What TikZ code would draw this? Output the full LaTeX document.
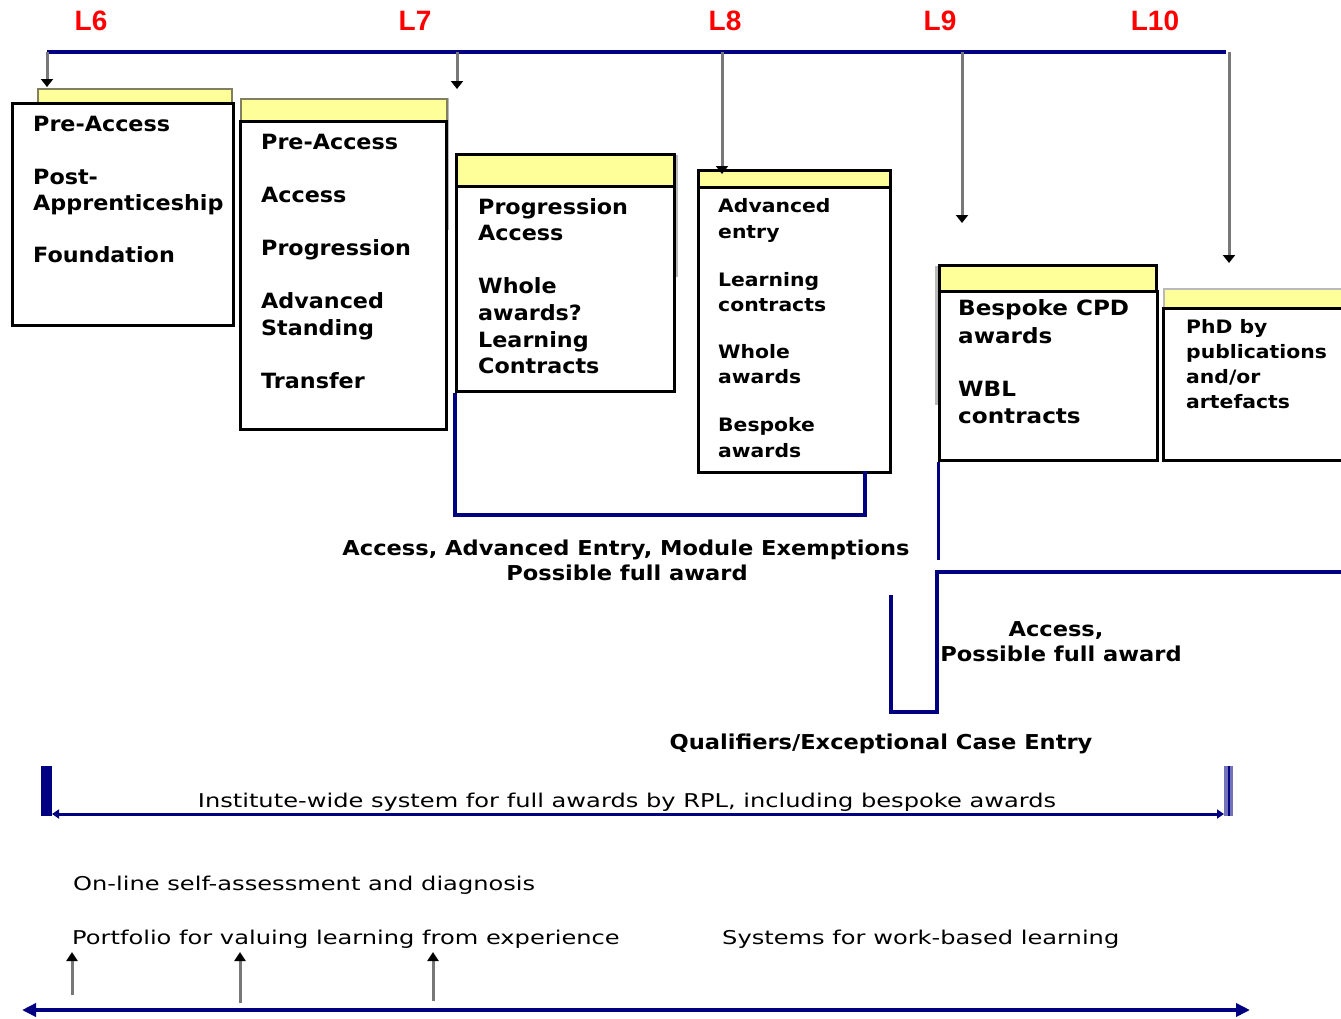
\documentclass[tikz,border=0pt]{standalone}
\usepackage{fontspec}
\setmainfont{DejaVu Sans}
\newfontfamily\boxfont{DejaVu Sans}[FakeStretch=1.06]
\newfontfamily\widefont{DejaVu Sans}[FakeStretch=1.1]
\newfontfamily\notefont{DejaVu Sans}[FakeStretch=1.27]
\newfontfamily\levelfont{Liberation Sans}
\usetikzlibrary{arrows.meta}
\definecolor{navyblue}{RGB}{0,0,128}
\definecolor{paleyellow}{RGB}{255,255,153}
\definecolor{headedge}{RGB}{128,128,96}
\definecolor{shadowgray}{RGB}{185,185,185}
\definecolor{levelred}{RGB}{255,0,0}
\definecolor{dropgray}{RGB}{120,120,120}
\begin{document}
\begin{tikzpicture}[x=1pt,y=-1pt,
  level/.style={font=\levelfont\bfseries\fontsize{28pt}{30pt}\selectfont, text=levelred, inner sep=0},
  head/.style={draw=headedge, line width=2pt, fill=paleyellow, anchor=north west, inner sep=0},
  card/.style={draw=black, line width=2.5pt, fill=white, anchor=north west, inner sep=0},
  item/.style={font=\boxfont\bfseries\fontsize{21pt}{24pt}\selectfont, anchor=base west, inner sep=0},
  wideitem/.style={font=\widefont\bfseries\fontsize{21pt}{24pt}\selectfont, anchor=base west, inner sep=0},
  smallitem/.style={font=\widefont\bfseries\fontsize{18.5pt}{22pt}\selectfont, anchor=base west, inner sep=0},
  note/.style={font=\widefont\bfseries\fontsize{20.5pt}{24pt}\selectfont, anchor=base, inner sep=0},
  plain/.style={font=\notefont\fontsize{19pt}{22pt}\selectfont, anchor=base west, inner sep=0},
  navyline/.style={draw=navyblue, line width=3.5pt},
  drop/.style={draw=dropgray, line width=3pt, -{Triangle[color=black,length=8pt,width=12pt]}},
  lift/.style={draw=dropgray, line width=3pt, -{Triangle[color=black,length=9pt,width=11pt]}},
  shade/.style={draw=shadowgray, line width=3pt}
]
\path[use as bounding box, fill=white] (0,0) rectangle (1341,1018);

% level captions
\node[level] (l6)  at (91,21)   {L6};
\node[level] (l7)  at (415,21)  {L7};
\node[level] (l8)  at (725,21)  {L8};
\node[level] (l9)  at (940,21)  {L9};
\node[level] (l10) at (1155,21) {L10};

% level rail and its drop points
\coordinate (railL) at (47,52);
\coordinate (railR) at (1226,52);
\draw[navyline] (railL) -- (railR);

\coordinate (d6)  at (47,52);   \coordinate (e6)  at (47,87);
\coordinate (d7)  at (457,52);  \coordinate (e7)  at (457,89);
\coordinate (d8)  at (722,52);  \coordinate (e8)  at (722,174);
\coordinate (d9)  at (962,52);  \coordinate (e9)  at (962,223);
\coordinate (d10) at (1229,52); \coordinate (e10) at (1229,263);

% soft shading beside some cards
\draw[shade] (447,98) -- (447,230);
\draw[shade] (676,155) -- (676,277);
\draw[shade] (936,266) -- (936,405);

% L6 card
\node[head, minimum width=194pt, minimum height=15pt] (h1) at (37,88) {};
\node[card, minimum width=221pt, minimum height=222pt] (b1) at (11,102) {};
\node[item] (t1a) at (33,131) {Pre-Access};
\node[item] (t1b) at (33,184) {Post-};
\node[item] (t1c) at (33,210) {Apprenticeship};
\node[item] (t1d) at (33,262) {Foundation};

% L7 card
\node[head, minimum width=206pt, minimum height=22pt] (h2) at (240,98) {};
\node[card, minimum width=206pt, minimum height=308pt] (b2) at (239,120) {};
\node[item] (t2a) at (261,149) {Pre-Access};
\node[item] (t2b) at (261,202) {Access};
\node[item] (t2c) at (261,255) {Progression};
\node[item] (t2d) at (261,308) {Advanced};
\node[item] (t2e) at (261,335) {Standing};
\node[item] (t2f) at (261,388) {Transfer};

% L7/L8 card
\node[head, draw=black, line width=2.5pt, minimum width=218pt, minimum height=32pt] (h3) at (455,153) {};
\node[card, minimum width=218pt, minimum height=205pt] (b3) at (455,185) {};
\node[item] (t3a) at (478,214) {Progression};
\node[item] (t3b) at (478,240) {Access};
\node[item] (t3c) at (478,293) {Whole};
\node[item] (t3d) at (478,320) {awards?};
\node[item] (t3e) at (478,347) {Learning};
\node[item] (t3f) at (478,373) {Contracts};

% L8 card
\node[head, draw=black, line width=2.5pt, minimum width=192pt, minimum height=17pt] (h4) at (697,169) {};
\node[card, minimum width=192pt, minimum height=285pt] (b4) at (697,186) {};
\node[smallitem] (t4a) at (718,212) {Advanced};
\node[smallitem] (t4b) at (718,238) {entry};
\node[smallitem] (t4c) at (718,286) {Learning};
\node[smallitem] (t4d) at (718,311) {contracts};
\node[smallitem] (t4e) at (718,358) {Whole};
\node[smallitem] (t4f) at (718,383) {awards};
\node[smallitem] (t4g) at (718,431) {Bespoke};
\node[smallitem] (t4h) at (718,457) {awards};

% L9 card
\node[head, draw=black, line width=2.5pt, minimum width=217pt, minimum height=26pt] (h5) at (938,264) {};
\node[card, minimum width=218pt, minimum height=169pt] (b5) at (938,290) {};
\node[wideitem] (t5a) at (958,315) {Bespoke CPD};
\node[wideitem] (t5b) at (958,343) {awards};
\node[wideitem] (t5c) at (958,396) {WBL};
\node[wideitem] (t5d) at (958,423) {contracts};

% L10 card
\node[head, draw=shadowgray, minimum width=200pt, minimum height=19pt] (h6) at (1163,288) {};
\node[card, minimum width=200pt, minimum height=152pt] (b6) at (1162,307) {};
\node[smallitem] (t6a) at (1186,333) {PhD by};
\node[smallitem] (t6b) at (1186,358) {publications};
\node[smallitem] (t6c) at (1186,383) {and/or};
\node[smallitem] (t6d) at (1186,408) {artefacts};

% drops from the level rail
\draw[drop] (d6) -- (e6);
\draw[drop] (d7) -- (e7);
\draw[drop] (d8) -- (e8);
\draw[drop] (d9) -- (e9);
\draw[drop] (d10) -- (e10);

% bracket joining the L7/L8 and L8 cards
\draw[navyline, line width=4pt] (b3.south west) -- (455,515) -- (865,515) -- (865,471);
\node[note] (n1) at (626,555) {Access, Advanced Entry, Module Exemptions};
\node[note] (n2) at (627,580) {Possible full award};

% routes below the L9 card
\draw[navyline, line width=3pt] (b5.south west) -- (938,560);
\draw[navyline, line width=4.5pt] (1341,572) -- (937,572) -- (937,712) -- (891,712) -- (891,595);
\node[note] (n3) at (1056,636) {Access,};
\node[note] (n4) at (1061,661) {Possible full award};
\node[note] (n5) at (881,749) {Qualifiers/Exceptional Case Entry};

% institute-wide span
\fill[navyblue] (41,766) rectangle (52,816);
\fill[navyblue!55] (1224,766) rectangle (1233,816);
\draw[navyblue, line width=2pt] (1229,766) -- (1229,816);
\coordinate (spanL) at (52,814);
\coordinate (spanR) at (1224,814);
\draw[navyblue, line width=3pt, {Triangle[length=7pt,width=9pt]}-{Triangle[length=7pt,width=9pt]}] (spanL) -- (spanR);
\node[plain, anchor=base] (n6) at (627,807) {Institute-wide system for full awards by RPL, including bespoke awards};

% support systems
\node[plain] (s1) at (73,890) {On-line self-assessment and diagnosis};
\node[plain] (s2) at (72,944) {Portfolio for valuing learning from experience};
\node[plain] (s3) at (722,944) {Systems for work-based learning};

\coordinate (u1) at (72,995);  \coordinate (v1) at (72,952);
\coordinate (u2) at (240,1003); \coordinate (v2) at (240,952);
\coordinate (u3) at (433,1001); \coordinate (v3) at (433,952);
\draw[lift] (u1) -- (v1);
\draw[lift] (u2) -- (v2);
\draw[lift] (u3) -- (v3);

% base axis
\coordinate (axisL) at (22,1010);
\coordinate (axisR) at (1250,1010);
\draw[navyline, line width=4pt, {Triangle[length=14pt,width=13pt]}-{Triangle[length=14pt,width=13pt]}] (axisL) -- (axisR);
\end{tikzpicture}
\end{document}
